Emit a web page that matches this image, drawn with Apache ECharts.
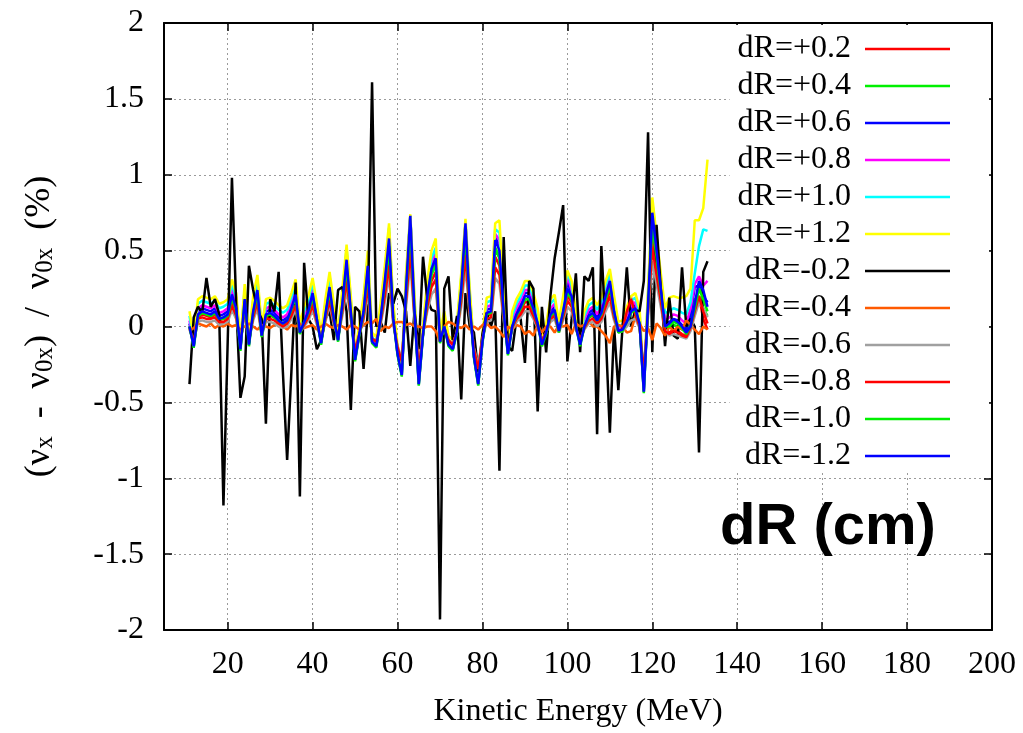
<!DOCTYPE html>
<html><head><meta charset="utf-8">
<script src="https://cdn.jsdelivr.net/npm/echarts@6/dist/echarts.min.js"></script>
<style>html,body{margin:0;padding:0;background:#fff}#c{width:1023px;height:733px}</style>
</head><body><div id="c"></div>
<script>
// Kinetic energy sample points (MeV)
const energies = [11,12,13,14,15,16,17,18,19,20,21,22,23,24,25,26,27,28,29,30,31,32,33,34,35,36,37,38,39,40,41,42,43,44,45,46,47,48,49,50,51,52,53,54,55,56,57,58,59,60,61,62,63,64,65,66,67,68,69,70,71,72,73,74,75,76,77,78,79,80,81,82,83,84,85,86,87,88,89,90,91,92,93,94,95,96,97,98,99,100,101,102,103,104,105,106,107,108,109,110,111,112,113,114,115,116,117,118,119,120,121,122,123,124,125,126,127,128,129,130,131,132,133];

const xTicks = [20,40,60,80,100,120,140,160,180,200];

const seriesNames = ['dR=+0.2','dR=+0.4','dR=+0.6','dR=+0.8','dR=+1.0','dR=+1.2','dR=-0.2','dR=-0.4','dR=-0.6','dR=-0.8','dR=-1.0','dR=-1.2'];
const seriesColors = ['#ff0000','#00f000','#0000ff','#ff00ff','#00ffff','#ffff00','#000000','#ff5a00','#a0a0a0','#ff0000','#00f000','#0000ff'];

const dRp02 = [0.00,-0.10,0.06,0.08,0.07,0.06,0.08,0.04,0.05,0.06, 0.17,0.10,-0.12,0.14,-0.10,0.08,0.19,-0.05,0.06,0.07, 0.06,0.03,0.02,0.03,0.10,0.17,-0.03,0.02,0.08,0.18, 0.04,-0.09,0.06,0.21,0.04,-0.07,0.12,0.35,0.08,-0.18, -0.04,0.08,0.32,-0.08,-0.10,0.04,0.24,0.46,0.04,-0.14, -0.26,0.20,0.58,0.08,-0.30,-0.04,0.16,0.30,0.36,-0.08, 0.00,-0.10,-0.12,-0.02,0.20,0.54,0.12,-0.16,-0.30,-0.08, 0.07,0.08,0.46,0.40,0.08,-0.14,0.00,0.06,0.10,0.16, 0.16,0.10,0.02,-0.10,-0.03,0.06,0.09,-0.02,0.08,0.20, 0.16,0.00,-0.10,0.00,0.06,0.07,0.03,0.07,0.16,0.24, 0.08,-0.02,-0.02,0.08,0.19,0.10,0.02,-0.34,0.12,0.60, 0.40,0.20,-0.02,-0.04,-0.02,-0.03,-0.05,-0.06,0.02,0.15, 0.20,0.05,-0.02];
const dRp04 = [0.00,-0.12,0.07,0.09,0.08,0.07,0.09,0.05,0.05,0.07, 0.19,0.11,-0.14,0.16,-0.11,0.09,0.22,-0.05,0.07,0.08, 0.06,0.04,0.02,0.04,0.11,0.19,-0.04,0.03,0.09,0.20, 0.05,-0.10,0.07,0.23,0.05,-0.08,0.14,0.40,0.09,-0.20, -0.05,0.09,0.36,-0.09,-0.12,0.05,0.27,0.52,0.05,-0.16, -0.29,0.23,0.66,0.09,-0.34,-0.05,0.18,0.34,0.41,-0.09, 0.00,-0.11,-0.14,-0.03,0.23,0.61,0.14,-0.18,-0.34,-0.09, 0.08,0.09,0.51,0.45,0.09,-0.16,0.00,0.07,0.12,0.18, 0.18,0.11,0.02,-0.11,-0.04,0.07,0.10,-0.03,0.09,0.23, 0.18,0.00,-0.11,0.00,0.06,0.08,0.04,0.08,0.18,0.27, 0.09,-0.03,-0.02,0.03,0.09,0.11,0.02,-0.39,0.14,0.68, 0.45,0.23,0.00,-0.01,0.01,0.00,-0.02,-0.04,0.04,0.18, 0.20,0.12,0.07];
const dRp06 = [0.02,-0.13,0.10,0.12,0.11,0.10,0.12,0.07,0.08,0.10, 0.23,0.14,-0.15,0.20,-0.12,0.12,0.26,-0.06,0.10,0.11, 0.09,0.06,0.04,0.06,0.14,0.23,-0.04,0.05,0.12,0.24, 0.07,-0.11,0.10,0.28,0.07,-0.09,0.17,0.46,0.12,-0.22, -0.05,0.12,0.42,-0.10,-0.13,0.07,0.32,0.60,0.07,-0.18, -0.32,0.27,0.73,0.12,-0.38,-0.05,0.22,0.40,0.47,-0.10, 0.02,-0.12,-0.15,-0.03,0.27,0.68,0.17,-0.20,-0.38,-0.10, 0.11,0.12,0.59,0.53,0.12,-0.18,0.02,0.10,0.15,0.22, 0.22,0.14,0.04,-0.12,-0.04,0.10,0.13,-0.03,0.12,0.29, 0.22,0.02,-0.12,0.02,0.09,0.11,0.06,0.11,0.22,0.31, 0.12,-0.03,-0.02,0.05,0.12,0.14,0.04,-0.43,0.17,0.76, 0.52,0.27,0.02,0.03,0.05,0.04,0.01,-0.02,0.08,0.26, 0.27,0.20,0.16];
const dRp08 = [0.04,-0.11,0.12,0.14,0.13,0.12,0.14,0.09,0.10,0.12, 0.25,0.16,-0.13,0.22,-0.10,0.14,0.28,-0.04,0.12,0.13, 0.11,0.08,0.06,0.08,0.16,0.25,-0.02,0.07,0.14,0.26, 0.09,-0.09,0.12,0.30,0.09,-0.07,0.19,0.48,0.14,-0.20, -0.03,0.14,0.44,-0.08,-0.11,0.09,0.34,0.62,0.09,-0.16, -0.30,0.29,0.72,0.14,-0.36,-0.03,0.24,0.42,0.49,-0.08, 0.04,-0.10,-0.13,-0.01,0.29,0.68,0.19,-0.18,-0.36,-0.08, 0.13,0.14,0.61,0.57,0.14,-0.16,0.04,0.12,0.17,0.24, 0.24,0.16,0.06,-0.10,-0.02,0.12,0.15,-0.01,0.14,0.33, 0.24,0.04,-0.10,0.04,0.11,0.13,0.08,0.13,0.24,0.33, 0.14,-0.01,0.00,0.07,0.14,0.16,0.06,-0.41,0.19,0.80, 0.54,0.29,0.04,0.06,0.08,0.07,0.04,0.02,0.12,0.28, 0.33,0.27,0.30];
const dRp10 = [0.07,-0.10,0.15,0.17,0.16,0.15,0.17,0.12,0.13,0.15, 0.28,0.19,-0.12,0.25,-0.09,0.17,0.31,-0.03,0.15,0.16, 0.14,0.11,0.09,0.11,0.19,0.28,-0.01,0.10,0.17,0.29, 0.12,-0.08,0.15,0.33,0.12,-0.06,0.22,0.51,0.17,-0.19, -0.02,0.17,0.47,-0.07,-0.10,0.12,0.37,0.65,0.12,-0.15, -0.29,0.32,0.73,0.17,-0.35,-0.02,0.27,0.45,0.52,-0.07, 0.07,-0.09,-0.12,0.00,0.32,0.69,0.22,-0.17,-0.35,-0.07, 0.16,0.17,0.64,0.62,0.17,-0.15,0.07,0.15,0.20,0.27, 0.27,0.19,0.09,-0.09,-0.01,0.15,0.18,0.00,0.17,0.36, 0.27,0.07,-0.09,0.07,0.14,0.16,0.11,0.16,0.27,0.35, 0.17,0.00,0.01,0.10,0.17,0.19,0.09,-0.40,0.22,0.82, 0.57,0.32,0.09,0.10,0.12,0.11,0.09,0.08,0.16,0.35, 0.53,0.64,0.63];
const dRp12 = [0.10,-0.07,0.18,0.20,0.19,0.18,0.20,0.15,0.16,0.18, 0.31,0.22,-0.09,0.28,-0.06,0.20,0.34,0.00,0.18,0.19, 0.17,0.14,0.12,0.14,0.22,0.31,0.02,0.13,0.20,0.32, 0.15,-0.05,0.18,0.36,0.15,-0.03,0.25,0.54,0.20,-0.16, 0.01,0.20,0.50,-0.04,-0.07,0.15,0.40,0.68,0.15,-0.12, -0.26,0.35,0.74,0.20,-0.32,0.01,0.30,0.50,0.58,-0.04, 0.10,-0.06,-0.09,0.03,0.35,0.71,0.25,-0.14,-0.32,-0.04, 0.19,0.20,0.68,0.70,0.20,-0.12,0.10,0.18,0.23,0.30, 0.30,0.22,0.12,-0.06,0.02,0.18,0.21,0.03,0.20,0.37, 0.30,0.10,-0.06,0.10,0.17,0.19,0.14,0.19,0.30,0.38, 0.20,0.03,0.04,0.13,0.20,0.22,0.12,-0.38,0.25,0.85, 0.60,0.35,0.12,0.19,0.20,0.19,0.19,0.20,0.25,0.70, 0.70,0.78,1.10];
const dRm02 = [-0.38,0.06,0.13,0.09,0.32,0.13,0.18,0.08,-1.18,-0.10, 0.98,0.15,-0.47,-0.33,0.40,0.24,0.11,0.05,-0.64,0.18, 0.10,0.36,-0.30,-0.88,-0.30,0.29,-1.12,0.42,0.05,0.00, -0.15,-0.09,0.05,0.10,-0.09,0.24,0.26,0.10,-0.55,0.13, 0.10,-0.28,0.10,1.61,0.00,0.03,-0.04,0.22,0.15,0.25, 0.20,0.10,-0.26,0.10,-0.15,0.46,0.18,0.11,0.10,-1.93, 0.25,0.33,-0.09,0.07,-0.48,0.22,0.00,-0.04,-0.30,-0.05, 0.09,0.00,0.10,-0.95,0.59,-0.13,-0.16,0.05,0.05,-0.24, 0.30,0.25,-0.56,0.13,-0.17,0.20,0.45,0.62,0.80,-0.23, 0.05,0.35,-0.17,0.33,0.30,0.39,-0.71,0.53,-0.02,-0.70, 0.00,-0.42,0.00,0.39,0.00,0.11,0.10,0.30,1.28,-0.17, 0.67,0.25,-0.13,0.19,-0.06,-0.08,0.39,0.00,0.05,0.00, -0.83,0.36,0.43];
const dRm04 = [-0.03,-0.01,0.02,0.01,0.00,0.02,-0.01,0.01,0.00,0.02, 0.00,0.01,-0.02,0.00,0.02,0.00,-0.02,0.01,0.00,-0.01, 0.01,0.02,0.00,-0.02,0.01,0.00,0.02,-0.01,0.00,0.01, -0.02,0.00,0.02,0.00,-0.01,0.01,0.00,-0.02,0.01,0.00, -0.02,0.01,0.03,0.02,0.05,-0.03,0.00,-0.01,0.02,0.03, 0.03,0.01,0.02,0.00,0.00,-0.01,0.00,0.00,-0.03,-0.10, 0.00,0.03,0.02,0.00,-0.01,0.01,-0.02,0.00,-0.02,0.01, 0.02,-0.01,0.00,-0.03,-0.07,0.00,-0.02,0.01,0.00,-0.05, -0.03,-0.06,0.01,-0.04,0.00,0.00,-0.04,0.01,0.00,0.01, -0.05,0.02,0.00,0.01,0.04,0.00,0.00,-0.03,-0.06,-0.11, 0.00,0.01,0.00,-0.04,-0.03,0.07,0.02,-0.03,-0.01,-0.09, 0.02,-0.01,-0.06,0.00,-0.03,0.00,-0.02,0.04,0.01,-0.02, -0.05,0.00,-0.02];
const dRm06 = [-0.02,-0.10,0.03,0.04,0.03,0.03,0.04,0.01,0.02,0.03, 0.11,0.05,-0.11,0.09,-0.09,0.04,0.12,-0.06,0.03,0.03, 0.02,0.00,-0.01,0.00,0.05,0.11,-0.04,0.00,0.04,0.11, 0.01,-0.09,0.03,0.14,0.01,-0.07,0.07,0.24,0.04,-0.15, -0.05,0.04,0.22,-0.08,-0.10,0.01,0.16,0.33,0.01,-0.13, -0.21,0.13,0.42,0.04,-0.25,-0.05,0.10,0.21,0.25,-0.08, -0.02,-0.09,-0.11,-0.04,0.13,0.39,0.07,-0.14,-0.25,-0.08, 0.03,0.04,0.32,0.28,0.04,-0.13,-0.02,0.03,0.06,0.10, 0.10,0.05,-0.01,-0.09,-0.04,0.03,0.05,-0.04,0.04,0.13, 0.10,-0.02,-0.09,-0.02,0.02,0.03,0.00,0.03,0.10,0.16, 0.04,-0.04,-0.03,0.00,0.04,0.05,-0.01,-0.28,0.07,0.43, 0.28,0.13,-0.02,-0.06,-0.05,-0.06,-0.07,-0.08,-0.03,0.07, 0.16,0.12,0.06];
const dRm08 = [-0.01,-0.10,0.05,0.06,0.05,0.05,0.06,0.03,0.03,0.05, 0.14,0.07,-0.12,0.12,-0.09,0.06,0.16,-0.05,0.05,0.05, 0.04,0.02,0.00,0.02,0.07,0.14,-0.04,0.01,0.06,0.14, 0.03,-0.09,0.05,0.17,0.03,-0.07,0.10,0.30,0.06,-0.16, -0.05,0.06,0.27,-0.08,-0.10,0.03,0.20,0.40,0.03,-0.14, -0.23,0.17,0.50,0.06,-0.28,-0.05,0.13,0.26,0.31,-0.08, -0.01,-0.09,-0.12,-0.03,0.17,0.47,0.10,-0.15,-0.28,-0.08, 0.05,0.06,0.39,0.34,0.06,-0.14,-0.01,0.05,0.08,0.13, 0.13,0.07,0.00,-0.09,-0.04,0.05,0.07,-0.03,0.06,0.17, 0.13,-0.01,-0.09,-0.01,0.04,0.05,0.02,0.05,0.13,0.20, 0.06,-0.03,-0.02,0.10,0.18,0.08,0.00,-0.31,0.10,0.52, 0.34,0.17,-0.03,-0.05,-0.03,-0.04,-0.06,-0.07,-0.01,0.10, 0.20,0.10,0.02];
const dRm10 = [0.00,-0.14,0.07,0.09,0.08,0.07,0.09,0.05,0.06,0.07, 0.19,0.11,-0.16,0.17,-0.13,0.09,0.22,-0.07,0.07,0.08, 0.06,0.04,0.02,0.04,0.11,0.19,-0.05,0.03,0.09,0.20, 0.05,-0.12,0.07,0.24,0.05,-0.10,0.14,0.40,0.09,-0.23, -0.06,0.09,0.37,-0.11,-0.14,0.05,0.28,0.53,0.05,-0.19, -0.33,0.23,0.67,0.09,-0.39,-0.06,0.18,0.35,0.41,-0.11, 0.00,-0.13,-0.16,-0.04,0.23,0.63,0.14,-0.21,-0.39,-0.11, 0.08,0.09,0.52,0.46,0.09,-0.19,0.00,0.07,0.12,0.18, 0.18,0.11,0.02,-0.13,-0.05,0.07,0.10,-0.04,0.09,0.23, 0.18,0.00,-0.13,0.00,0.06,0.08,0.04,0.08,0.18,0.28, 0.09,-0.04,-0.03,0.03,0.09,0.11,0.02,-0.44,0.14,0.69, 0.46,0.23,0.00,0.00,0.03,0.02,-0.01,-0.05,0.00,0.12, 0.25,0.18,0.10];
const dRm12 = [0.00,-0.13,0.08,0.10,0.09,0.08,0.10,0.05,0.06,0.08, 0.21,0.12,-0.15,0.18,-0.12,0.10,0.24,-0.06,0.08,0.09, 0.07,0.04,0.02,0.04,0.12,0.21,-0.04,0.03,0.10,0.22, 0.05,-0.11,0.08,0.26,0.05,-0.09,0.15,0.44,0.10,-0.22, -0.05,0.10,0.40,-0.10,-0.13,0.05,0.30,0.58,0.05,-0.18, -0.32,0.25,0.73,0.10,-0.38,-0.05,0.20,0.38,0.45,-0.10, 0.00,-0.12,-0.15,-0.03,0.25,0.68,0.15,-0.20,-0.38,-0.10, 0.09,0.10,0.57,0.50,0.10,-0.18,0.00,0.08,0.13,0.20, 0.20,0.12,0.02,-0.12,-0.04,0.08,0.11,-0.03,0.10,0.25, 0.20,0.00,-0.12,0.00,0.07,0.09,0.04,0.09,0.20,0.30, 0.10,-0.03,-0.02,0.03,0.10,0.12,0.02,-0.43,0.15,0.75, 0.50,0.25,0.00,0.02,0.05,0.03,0.00,-0.04,0.00,0.15, 0.30,0.24,0.13];

const seriesValues = [dRp02,dRp04,dRp06,dRp08,dRp10,dRp12,dRm02,dRm04,dRm06,dRm08,dRm10,dRm12];

const SERIF = '"Liberation Serif", "Times New Roman", serif';
const chart = echarts.init(document.getElementById('c'), null, {renderer: 'canvas'});

const series = seriesNames.map((name, k) => ({
  name: name,
  type: 'line',
  xAxisIndex: 0,
  yAxisIndex: 0,
  showSymbol: false,
  symbol: 'none',
  data: energies.map((e, i) => [e, seriesValues[k][i]]),
  itemStyle: {color: seriesColors[k]},
  lineStyle: {color: seriesColors[k], width: 2.5},
  emphasis: {disabled: true},
  z: 2
}));

const gridLine = {show: true, lineStyle: {color: '#9a9a9a', width: 1, type: [2, 3]}};

chart.setOption({
  animation: false,
  backgroundColor: '#fff',
  grid: {left: 164, right: 31, top: 23, bottom: 102, containLabel: false},
  xAxis: [{
    type: 'value', min: 5, max: 200, position: 'bottom',
    axisLine: {show: true, onZero: false, lineStyle: {color: '#000', width: 2}},
    axisTick: {show: true, inside: true, length: 8, customValues: xTicks, lineStyle: {color: '#000', width: 1.5}},
    axisLabel: {show: true, customValues: xTicks, margin: 19, fontFamily: SERIF, fontSize: 32, color: '#000'},
    splitLine: gridLine,
    name: 'Kinetic Energy (MeV)', nameLocation: 'middle', nameGap: 66,
    nameTextStyle: {fontFamily: SERIF, fontSize: 32, color: '#000'}
  }, {
    type: 'value', min: 5, max: 200, position: 'top',
    axisLine: {show: true, onZero: false, lineStyle: {color: '#000', width: 2}},
    axisTick: {show: true, inside: true, length: 8, customValues: xTicks, lineStyle: {color: '#000', width: 1.5}},
    axisLabel: {show: false},
    splitLine: {show: false}
  }],
  yAxis: [{
    type: 'value', min: -2, max: 2, interval: 0.5, position: 'left',
    axisLine: {show: true, onZero: false, lineStyle: {color: '#000', width: 2}},
    axisTick: {show: true, inside: true, length: 8, lineStyle: {color: '#000', width: 1.5}},
    axisLabel: {margin: 20, fontFamily: SERIF, fontSize: 32, color: '#000'},
    splitLine: gridLine,
    name: '(ν{s|x}  -  ν{s|0x})  /  ν{s|0x}  (%)', nameLocation: 'middle', nameRotate: 90, nameGap: 106,
    nameTextStyle: {fontFamily: SERIF, fontSize: 36, color: '#000', lineHeight: 36,
      rich: {s: {fontFamily: SERIF, fontSize: 25, color: '#000', lineHeight: 19, verticalAlign: 'bottom'}}}
  }, {
    type: 'value', min: -2, max: 2, interval: 0.5, position: 'right',
    axisLine: {show: true, onZero: false, lineStyle: {color: '#000', width: 2}},
    axisTick: {show: true, inside: true, length: 8, lineStyle: {color: '#000', width: 1.5}},
    axisLabel: {show: false},
    splitLine: {show: false}
  }],
  legend: {
    show: true, orient: 'vertical', align: 'right', right: 34, top: 25,
    padding: [8, 39, 1, 8], backgroundColor: '#fff',
    icon: 'rect', itemWidth: 85, itemHeight: 2.5, itemGap: 5,
    selectedMode: false,
    textStyle: {fontFamily: SERIF, fontSize: 32, lineHeight: 28, color: '#000', padding: [0, 9, 0, 0]},
    data: seriesNames
  },
  graphic: [{
    type: 'text', left: 720, top: 499, z: 10,
    style: {text: 'dR (cm)', font: 'bold 58px "Liberation Sans", Arial, sans-serif', fill: '#000'}
  }],
  series: series
});
</script>
</body></html>
